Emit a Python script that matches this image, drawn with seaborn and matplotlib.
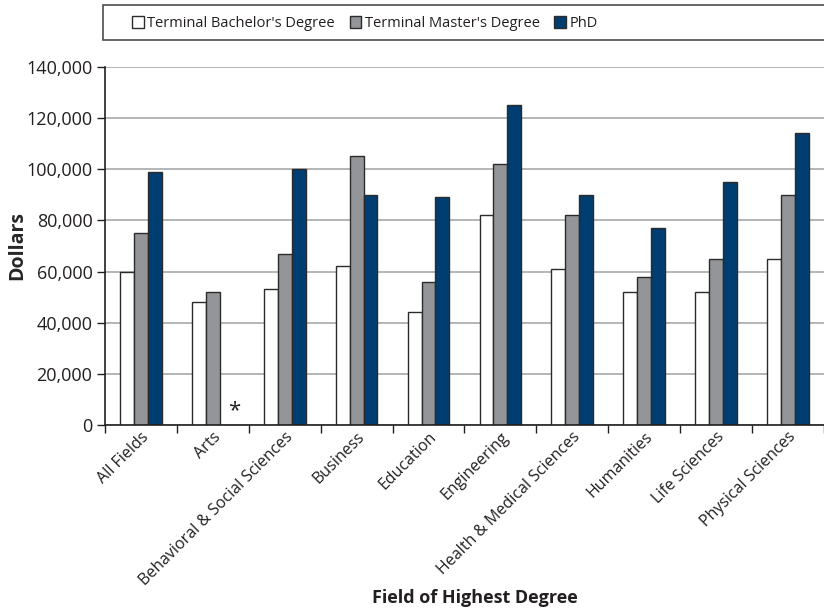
import pandas as pd
import numpy as np
import matplotlib
matplotlib.use('Agg')
import matplotlib.pyplot as plt
import seaborn as sns
from matplotlib.ticker import FuncFormatter

fields = ['All Fields', 'Arts', 'Behavioral & Social Sciences', 'Business', 'Education',
          'Engineering', 'Health & Medical Sciences', 'Humanities', 'Life Sciences',
          'Physical Sciences']
degrees = ["Terminal Bachelor's Degree", "Terminal Master's Degree", 'PhD']

bachelor = [60000, 48000, 53000, 62000, 44000, 82000, 61000, 52000, 52000, 65000]
master = [75000, 52000, 67000, 105000, 56000, 102000, 82000, 58000, 65000, 90000]
phd = [99000, np.nan, 100000, 90000, 89000, 125000, 90000, 77000, 95000, 114000]

degreeColors = ['#ffffff', '#939598', '#003d71']
textColor = '#231f20'

df = pd.DataFrame({
    'field': fields * 3,
    'degree': [degrees[0]] * 10 + [degrees[1]] * 10 + [degrees[2]] * 10,
    'salary': bachelor + master + phd,
})

sns.set_style('white')
plt.rcParams['font.family'] = ['Open Sans', 'DejaVu Sans']
plt.rcParams['text.color'] = textColor

fig = plt.figure(figsize=(8.24, 6.12), dpi=100)
ax = fig.add_axes([0.1274, 0.3056, 0.8726, 0.585])

sns.barplot(data=df, x='field', y='salary', hue='degree', order=fields, hue_order=degrees,
            palette=degreeColors, edgecolor='#2b2b2b', linewidth=1.0, width=0.58,
            saturation=1, ax=ax)

ax.set_xlim(-0.5, len(fields) - 0.5)
ax.set_ylim(0, 140000)
ax.set_yticks(range(0, 140001, 20000))
ax.yaxis.set_major_formatter(FuncFormatter(lambda v, p: f'{int(v):,}'))
ax.yaxis.grid(True, color='#a7a9ac', linewidth=1.2)
ax.set_axisbelow(True)

# category boundaries get the tick marks, centres get the labels
ax.set_xticks(np.arange(-0.5, len(fields), 1.0))
ax.set_xticklabels([])
ax.set_xticks(np.arange(len(fields)), minor=True)
ax.set_xticklabels(fields, minor=True, rotation=45, ha='right', rotation_mode='anchor',
                   fontsize=11.5, color=textColor)
ax.tick_params(axis='x', which='major', direction='out', length=6, width=1, color='#231f20', bottom=True)
ax.tick_params(axis='x', which='minor', length=0, pad=3)
ax.tick_params(axis='y', direction='out', length=6, width=1, color='#231f20', left=True,
               labelsize=13, labelcolor=textColor, pad=3)

for side in ['top', 'right']:
    ax.spines[side].set_visible(False)
for side in ['left', 'bottom']:
    ax.spines[side].set_color('#231f20')
    ax.spines[side].set_linewidth(1.2)

ax.set_ylabel('Dollars', fontsize=14, fontweight='bold')
ax.yaxis.set_label_coords(-0.108, 0.5)
ax.set_xlabel('')
fig.text(475 / 824, 1 - 598 / 612, 'Field of Highest Degree', ha='center', va='center',
         fontsize=13, fontweight='bold')

# missing PhD value for Arts
ax.text(1 + 0.3, 1500, '*', ha='center', va='bottom', fontsize=16, color=textColor)

# legend box spans to the right edge
ax.get_legend().remove()
fig.patches.append(plt.Rectangle((103 / 824, 1 - 40 / 612), 0.9, 35 / 612, transform=fig.transFigure,
                                 facecolor='white', edgecolor='#4d4d4d', linewidth=1.2))
handles = [plt.Rectangle((0, 0), 1, 1, facecolor=c, edgecolor='#2b2b2b', linewidth=1) for c in degreeColors]
leg = fig.legend(handles, degrees, loc='center left', bbox_to_anchor=(132 / 824, 1 - 23.5 / 612),
                 ncol=3, fontsize=10.5, frameon=False,
                 handlelength=0.8, handleheight=0.8, handletextpad=0.25, columnspacing=1.0,
                 borderaxespad=0, borderpad=0)

fig.savefig('out.png', dpi=100)
